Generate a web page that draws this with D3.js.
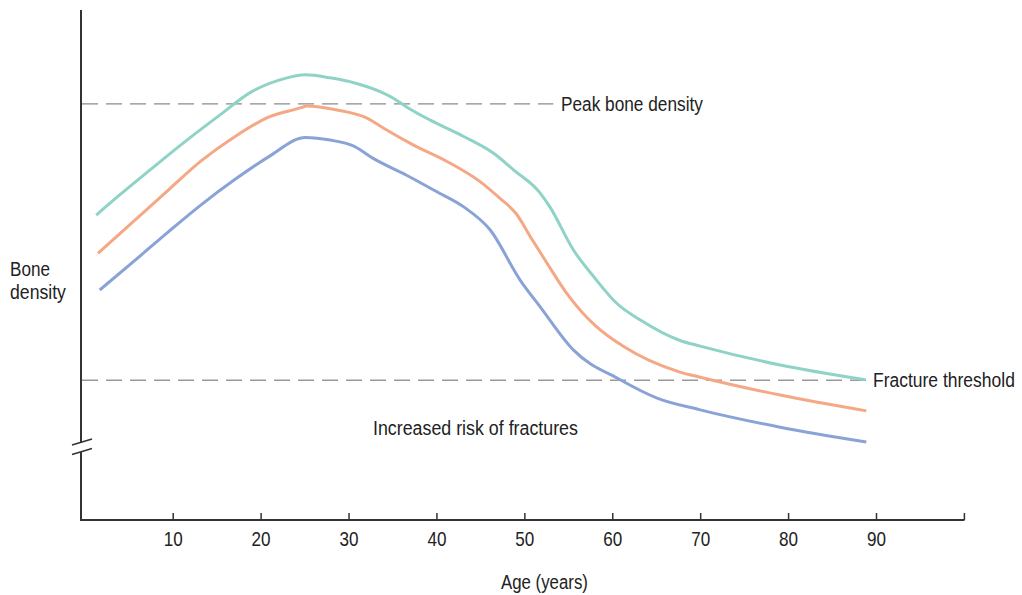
<!DOCTYPE html>
<html>
<head>
<meta charset="utf-8">
<script src="https://cdn.jsdelivr.net/npm/d3@7"></script>
<style>
  html, body { margin: 0; padding: 0; background: #fff; }
  svg { display: block; }
  text { font-family: "Liberation Sans Narrow", "Arial Narrow", "Liberation Sans", sans-serif; fill: #222; }
</style>
</head>
<body>
<svg id="chart" width="1022" height="595"></svg>
<script>
// ---- data (age in years, relative bone density) ----
const tealAge   = [1.3, 3.8, 7.6, 11.4, 15.2, 19.0, 22.8, 25.1, 27.9, 30.9, 33.6, 35.1, 36.6, 39.3, 43.1, 46.5, 48.8, 51.8, 52.9, 55.6, 57.9, 60.5, 63.2, 67.7, 70.0, 79.1, 88.8];
const tealVal   = [59.8, 63.5, 68.9, 74.2, 79.2, 84.0, 86.6, 87.3, 86.7, 85.6, 84.0, 82.7, 81.0, 78.4, 75.2, 71.9, 68.6, 64.1, 61.4, 52.9, 47.7, 42.5, 39.2, 35.2, 34.1, 30.4, 27.5];
const orangeAge = [1.5, 5.7, 9.5, 13.3, 17.1, 20.9, 24.7, 25.2, 28.7, 32.1, 34.0, 37.4, 41.2, 45.0, 47.2, 49.1, 50.7, 52.6, 54.8, 58.2, 61.3, 67.7, 70.0, 79.1, 88.9];
const orangeVal = [52.3, 58.8, 64.7, 70.5, 75.2, 79.0, 80.9, 81.2, 80.4, 78.8, 76.8, 73.5, 70.3, 66.3, 63.1, 60.0, 55.5, 50.3, 44.5, 37.9, 34.0, 29.0, 28.0, 24.5, 21.4];
const blueAge   = [1.7, 5.7, 9.5, 13.3, 17.1, 20.9, 25.1, 27.9, 30.6, 32.8, 36.6, 40.0, 43.1, 46.1, 49.5, 51.8, 55.6, 60.9, 65.1, 70.0, 79.1, 88.9];
const blueVal   = [45.1, 50.9, 56.5, 61.9, 66.8, 71.2, 75.0, 74.5, 73.3, 70.9, 67.6, 64.4, 61.4, 56.9, 47.1, 41.8, 33.3, 27.5, 23.9, 21.6, 18.2, 15.3];

const tickValues = [10, 20, 30, 40, 50, 60, 70, 80, 90, 100];
const tickLabels = ["10", "20", "30", "40", "50", "60", "70", "80", "90", ""];

const peakLevel = 81.6;      const peakEndAge = 53.3;
const fractureLevel = 27.4;  const fractureEndAge = 88.9;

const labels = {
  peak: "Peak bone density",
  fracture: "Fracture threshold",
  risk: "Increased risk of fractures",
  yTitle: ["Bone", "density"],
  xTitle: "Age (years)"
};

// ---- drawing ----
const svg = d3.select("#chart");
const x = d3.scaleLinear().domain([0, 100]).range([84.8, 963.9]);
const y = d3.scaleLinear().domain([0, 100]).range([520, 10]);
const axisColor = "#333";
const fs = 21;

// condensed text: draw at (0,0) then squeeze horizontally to the target width
function condensed(str, px, py, w, anchor) {
  const t = svg.append("text").attr("font-size", fs).attr("x", 0).attr("y", 0).text(str);
  const natural = t.node().getComputedTextLength();
  const k = w / natural;
  const left = anchor === "middle" ? px - w / 2 : px;
  t.attr("transform", `translate(${left},${py}) scale(${k},1)`);
  return t;
}

// x axis
const xAxis = d3.axisBottom(x)
  .tickValues(tickValues)
  .tickSizeInner(-7)
  .tickSizeOuter(0)
  .tickPadding(0)
  .tickFormat((d, i) => tickLabels[i]);
const gx = svg.append("g").attr("transform", "translate(0,520)").call(xAxis);
gx.select(".domain").remove();
gx.selectAll(".tick line").attr("stroke", axisColor).attr("stroke-width", 1.5);
gx.selectAll(".tick text")
  .attr("y", 26)
  .attr("dy", null)
  .attr("font-size", fs)
  .attr("font-family", null)
  .attr("fill", "#222")
  .each(function(d, i) {
    if (tickLabels[i]) d3.select(this).attr("textLength", 19).attr("lengthAdjust", "spacingAndGlyphs");
  });
svg.append("line").attr("x1", 80).attr("x2", 964.5).attr("y1", 520).attr("y2", 520)
  .attr("stroke", axisColor).attr("stroke-width", 1.8);

// y axis with break
svg.append("line").attr("x1", 81).attr("x2", 81).attr("y1", 10).attr("y2", 443)
  .attr("stroke", axisColor).attr("stroke-width", 2);
svg.append("line").attr("x1", 81).attr("x2", 81).attr("y1", 452).attr("y2", 521)
  .attr("stroke", axisColor).attr("stroke-width", 2);
svg.append("line").attr("x1", 72).attr("y1", 445).attr("x2", 92).attr("y2", 439)
  .attr("stroke", axisColor).attr("stroke-width", 1.6);
svg.append("line").attr("x1", 72).attr("y1", 454.5).attr("x2", 92).attr("y2", 448.5)
  .attr("stroke", axisColor).attr("stroke-width", 1.6);

// reference dashed lines
svg.append("line")
  .attr("x1", 82).attr("x2", x(peakEndAge))
  .attr("y1", y(peakLevel)).attr("y2", y(peakLevel))
  .attr("stroke", "#8a8a8a").attr("stroke-width", 1.3).attr("stroke-dasharray", "16,8");
svg.append("line")
  .attr("x1", 82).attr("x2", x(fractureEndAge))
  .attr("y1", y(fractureLevel)).attr("y2", y(fractureLevel))
  .attr("stroke", "#9a9a9a").attr("stroke-width", 1.3).attr("stroke-dasharray", "16,8");

// curves
const line = d3.line()
  .x(d => x(d[0]))
  .y(d => y(d[1]))
  .curve(d3.curveMonotoneX);
const series = [
  { age: tealAge, val: tealVal, color: "#8fd3c7" },
  { age: orangeAge, val: orangeVal, color: "#f5a886" },
  { age: blueAge, val: blueVal, color: "#8aa3d7" }
];
series.forEach(s => {
  svg.append("path")
    .datum(s.age.map((a, i) => [a, s.val[i]]))
    .attr("d", line)
    .attr("fill", "none")
    .attr("stroke", s.color)
    .attr("stroke-width", 3)
    .attr("stroke-linejoin", "round");
});

// texts
condensed(labels.peak, 561, 111, 142);
condensed(labels.fracture, 873, 387, 142);
condensed(labels.risk, 373, 435, 205);
condensed(labels.yTitle[0], 10, 276, 40);
condensed(labels.yTitle[1], 10, 299, 56);
condensed(labels.xTitle, 544.5, 589, 87, "middle");
</script>
</body>
</html>
